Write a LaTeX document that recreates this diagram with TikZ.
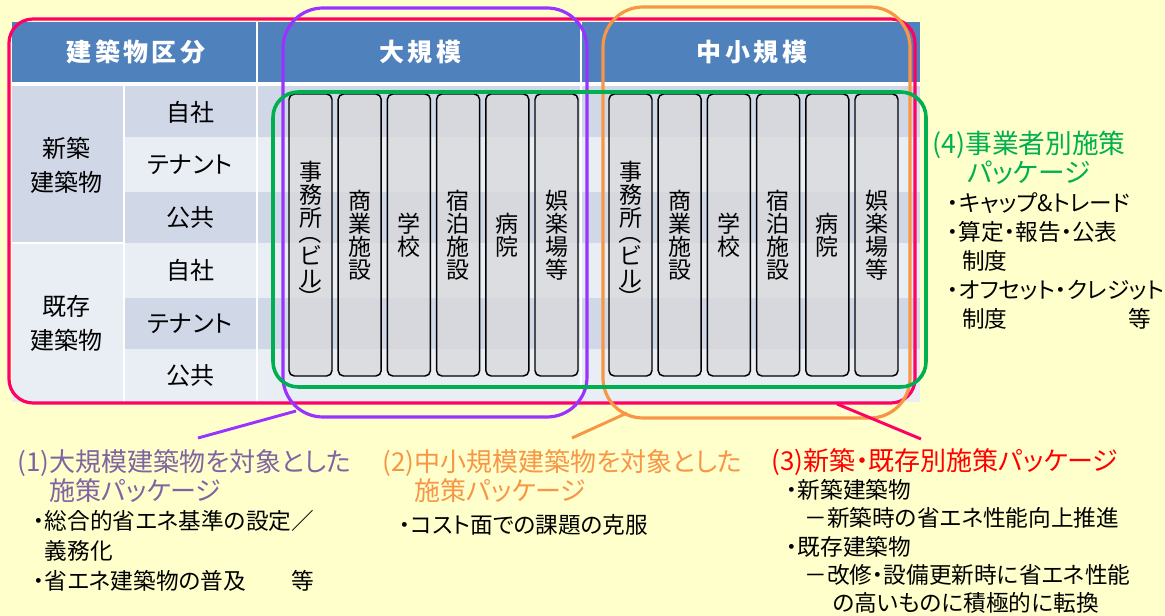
\documentclass[tikz,border=0pt]{standalone}
\usepackage{fontspec}
\setmainfont{Noto Sans CJK JP}[RawFeature={+palt}]
\newfontfamily\hdfont{Noto Sans CJK JP}[LetterSpace=14]
\newfontfamily\barfont{Noto Sans CJK JP}

\definecolor{bgyellow}{RGB}{255,255,204}
\definecolor{hdrblue}{RGB}{79,129,189}
\definecolor{banddark}{RGB}{208,216,232}
\definecolor{bandlight}{RGB}{233,237,244}
\definecolor{barfill}{RGB}{217,217,219}
\definecolor{pinkc}{RGB}{255,0,102}
\definecolor{purplec}{RGB}{153,51,255}
\definecolor{orangec}{RGB}{247,150,70}
\definecolor{greenc}{RGB}{0,176,80}
\definecolor{lblpurple}{RGB}{128,100,162}
\definecolor{lblred}{RGB}{255,0,0}

\newcommand{\vopen}{\rotatebox[origin=c]{-90}{（}}
\newcommand{\vclose}{\rotatebox[origin=c]{-90}{）}}

\tikzset{every picture/.style={line width=0.75pt}}

\begin{document}
\begin{tikzpicture}[x=0.75pt,y=0.75pt,yscale=-1,xscale=1,
  hdtext/.style={inner sep=0pt,text=white,font=\hdfont\bfseries\fontsize{18.75}{18.75}\selectfont},
  celltext/.style={inner sep=0pt,align=center,font=\fontsize{18}{25.5}\selectfont},
  bar/.style={draw=black,line width=1.1pt,fill=barfill,fill opacity=0.8,text opacity=1,rounded corners=4pt,
    minimum width=32.25pt,minimum height=211.5pt,inner sep=0pt,align=center,font=\barfont\fontsize{17.25}{17.25}\selectfont},
  pkgtitle/.style={anchor=west,inner sep=0pt,align=left,font=\fontsize{19.5}{21.75}\selectfont},
  pkglist/.style={anchor=west,inner sep=0pt,align=left,font=\fontsize{17}{22.5}\selectfont},
  frame/.style={line width=2.4pt}]

%Background
\fill [bgyellow] (0,0) rectangle (1165,616) ;
\useasboundingbox (0,0) rectangle (1165,616) ;

%Shape: Table header
\fill [hdrblue] (12,22) rectangle (920,82) ;
\fill [white] (12,82) rectangle (920,86) ;
%Shape: Table body
\fill [banddark] (12,86) rectangle (124,243) ;
\fill [bandlight] (12,243) rectangle (124,402) ;
\fill [banddark] (124,86) rectangle (920,137) ;
\fill [bandlight] (124,137) rectangle (920,192) ;
\fill [banddark] (124,192) rectangle (920,243) ;
\fill [bandlight] (124,243) rectangle (920,298) ;
\fill [banddark] (124,298) rectangle (920,349) ;
\fill [bandlight] (124,349) rectangle (920,402) ;
%Straight Lines: grid
\draw [white,line width=1.2pt] (124,86) -- (124,402) ;
\draw [white,line width=1.2pt] (257,22) -- (257,402) ;
\draw [white,line width=1.2pt] (581,22) -- (581,402) ;
\draw [white,line width=1.2pt] (12,243) -- (124,243) ;

% Text Node
\node [hdtext] (hdkind) at (136,52) {建築物区分};
\node [hdtext] (hdlarge) at (420,52) {大規模};
\node [hdtext] (hdsmall) at (752,52) {中小規模};
\node [celltext] (newbld) at (67,165) {新築\\建築物};
\node [celltext] (oldbld) at (67,323) {既存\\建築物};
\node [celltext] (ownnew) at (190,112) {自社};
\node [celltext] (tennew) at (190,164.5) {テナント};
\node [celltext] (pubnew) at (190,217.5) {公共};
\node [celltext] (ownold) at (190,270.5) {自社};
\node [celltext] (tenold) at (190,323.5) {テナント};
\node [celltext] (pubold) at (190,375.5) {公共};

%Shape: Bars (large scale)
\node [bar] (lgoffice) at (310.5,235) {事\\務\\所\\[-0.34em]\vopen\\ビ\\ル\\[-0.17em]\vclose};
\node [bar] (lgshop) at (359.7,235) {商\\業\\施\\設};
\node [bar] (lgschool) at (408.9,235) {学\\校};
\node [bar] (lghotel) at (458.1,235) {宿\\泊\\施\\設};
\node [bar] (lghosp) at (507.3,235) {病\\院};
\node [bar] (lgleisure) at (556.5,235) {娯\\楽\\場\\等};
%Shape: Bars (small and medium scale)
\node [bar] (smoffice) at (630.5,235) {事\\務\\所\\[-0.34em]\vopen\\ビ\\ル\\[-0.17em]\vclose};
\node [bar] (smshop) at (679.7,235) {商\\業\\施\\設};
\node [bar] (smschool) at (728.9,235) {学\\校};
\node [bar] (smhotel) at (778.1,235) {宿\\泊\\施\\設};
\node [bar] (smhosp) at (827.3,235) {病\\院};
\node [bar] (smleisure) at (876.5,235) {娯\\楽\\場\\等};

%Shape: Rounded Rect (new / existing)
\draw [frame,pinkc,rounded corners=18pt] (9,19) rectangle (915,403) ;
%Shape: Rounded Rect (large scale)
\draw [frame,purplec,rounded corners=30pt] (283,8) rectangle (587,417) ;
%Shape: Rounded Rect (small and medium scale)
\draw [frame,orangec,rounded corners=30pt] (603,7) rectangle (910,418) ;
%Shape: Rounded Rect (by business operator)
\draw [frame,greenc,line width=2.7pt,rounded corners=19pt] (273,92) rectangle (926,387) ;

% Text Node
\node [pkgtitle,text=lblpurple] (pkgone) at (17,477.5) {(1)大規模建築物を対象とした\\\phantom{(1)}施策パッケージ};
\node [pkglist] (listone) at (33,551) {・総合的省エネ基準の設定／\\\phantom{・}義務化\\・省エネ建築物の普及\hspace{2em}等};
% Text Node
\node [pkgtitle,text=orangec] (pkgtwo) at (382,477.5) {(2)中小規模建築物を対象とした\\\phantom{(2)}施策パッケージ};
\node [pkglist] (listtwo) at (399,525) {・コスト面での課題の克服};
% Text Node
\node [pkgtitle,text=lblred] (pkgthree) at (771,462) {(3)新築・既存別施策パッケージ};
\node [pkglist,font=\fontsize{17}{21.2}\selectfont] (listthree) at (786,546.5) {・新築建築物\\\hspace*{13.5pt}－新築時の省エネ性能向上推進\\・既存建築物\\\hspace*{13.5pt}－改修・設備更新時に省エネ性能\\\hspace*{34.5pt}の高いものに積極的に転換};
% Text Node
\node [pkgtitle,text=greenc,font=\fontsize{20}{21.75}\selectfont] (pkgfour) at (932,157.5) {(4)事業者別施策\\\hspace*{26pt}パッケージ};
\node [pkglist,font=\fontsize{17}{21.75}\selectfont] (listfour) at (947,261) {・キャップ\&トレード\\・算定・報告・公表\\\hspace*{11pt}制度\\・オフセット・クレジット\\\hspace*{11pt}制度\hspace*{91pt}等};

%Straight Lines
\coordinate (onefrom) at (296,411) ;
\coordinate (oneto) at (198,438) ;
\coordinate (twofrom) at (627,413) ;
\coordinate (twoto) at (572,438) ;
\coordinate (threefrom) at (837,404) ;
\coordinate (threeto) at (921,439) ;
\draw [purplec,line width=2.2pt] (onefrom) -- (oneto) ;
\draw [orangec,line width=2.2pt] (twofrom) -- (twoto) ;
\draw [pinkc,line width=2.2pt] (threefrom) -- (threeto) ;

\end{tikzpicture}
\end{document}
